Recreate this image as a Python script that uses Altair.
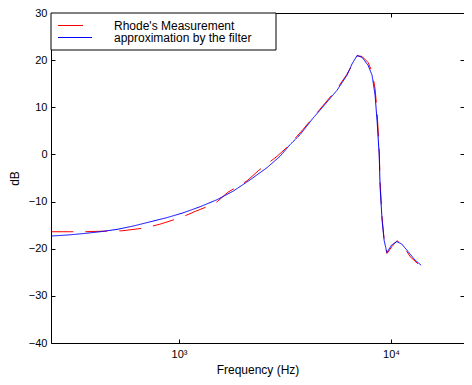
import altair as alt
import pandas as pd

# Measurement (red, dashed)
meas_freq = [250, 297, 352, 424, 538, 691, 813, 1033, 1190, 1479, 1703, 2093, 2360, 2899,
             3266, 3845, 4625, 5559, 6196, 6920, 7292, 7795, 8137, 8405, 8595, 8790, 8880,
             9073, 9274, 9572, 10110, 10670, 11400, 12310, 13390]
meas_db = [-16.4, -16.4, -16.4, -16.3, -16.2, -15.6, -14.8, -13.3, -12.1, -10.4, -8.0, -5.6,
           -3.5, -0.4, 1.7, 5.3, 9.6, 13.9, 17.0, 20.9, 20.8, 19.5, 17.5, 14.0, 9.0, 1.0,
           -6.0, -13.5, -18.0, -21.0, -19.5, -18.3, -19.3, -21.7, -23.2]

# Filter approximation (blue, solid)
fit_freq = [250, 297, 352, 424, 510, 607, 730, 878, 1044, 1256, 1511, 1799, 2163, 2600,
            2994, 3342, 3724, 4286, 4625, 5559, 6196, 6545, 6920, 7292, 7795, 8137, 8405,
            8595, 8790, 8880, 9073, 9274, 9550, 10070, 10640, 11230, 12020, 12970, 13870]
fit_db = [-17.3, -17.1, -16.8, -16.4, -15.9, -15.2, -14.3, -13.4, -12.4, -11.1, -9.6, -7.8,
          -5.4, -2.8, -0.4, 2.1, 4.2, 7.7, 9.4, 13.6, 16.8, 19.2, 21.0, 20.6, 18.9, 16.8,
          12.6, 7.0, 0.0, -7.0, -14.0, -18.2, -20.8, -19.2, -18.5, -19.0, -20.6, -22.4, -23.5]

series_names = ["Rhode's Measurement", "approximation by the filter"]
series_colors = ["#ff0000", "#0000ff"]
x_ticks = [1000, 10000]
y_ticks = [-40, -30, -20, -10, 0, 10, 20, 30]

df = pd.concat([
    pd.DataFrame({"f": meas_freq, "db": meas_db, "s": series_names[0], "o": range(len(meas_freq))}),
    pd.DataFrame({"f": fit_freq, "db": fit_db, "s": series_names[1], "o": range(len(fit_freq))}),
])
leg_df = pd.DataFrame({"s": series_names, "row": [0, 1]})

FONT = "Liberation Sans"
xscale = alt.Scale(type="log", domain=[249, 22080], nice=False)
yscale = alt.Scale(domain=[-40, 30], nice=False)
cscale = alt.Scale(domain=series_names, range=series_colors)

color = alt.Color("s:N", scale=cscale, legend=None)
dash = alt.StrokeDash("s:N", scale=alt.Scale(domain=series_names, range=[[22, 12], [1, 0]]), legend=None)

x_bottom = alt.X("f:Q", scale=xscale, axis=alt.Axis(
    values=x_ticks, labelExpr="datum.value == 1000 ? '10³' : '10⁴'",
    grid=False, domain=False, tickSize=4, offset=-4, tickColor="black",
    labelPadding=5, labelFont=FONT, labelFontSize=11, labelColor="black",
    title="Frequency (Hz)", titleFont=FONT, titleFontSize=12, titleFontWeight="normal",
    titleColor="black", titlePadding=5))
y_left = alt.Y("db:Q", scale=yscale, axis=alt.Axis(
    values=y_ticks, grid=False, domain=False, tickSize=4, offset=-4, tickColor="black",
    labelPadding=4, labelFont=FONT, labelFontSize=11, labelColor="black",
    title="dB", titleFont=FONT, titleFontSize=12, titleFontWeight="normal",
    titleColor="black", titlePadding=7))

base = alt.Chart(df)
red = base.transform_filter(alt.datum.s == series_names[0]).mark_line(strokeWidth=1).encode(
    x=x_bottom, y=y_left, color=color, strokeDash=dash, order="o:Q")
blue = base.transform_filter(alt.datum.s == series_names[1]).mark_line(strokeWidth=1).encode(
    x=x_bottom, y=y_left, color=color, strokeDash=dash, order="o:Q")

# legend box drawn inside the plot, top-left
lbase = alt.Chart(leg_df)
box = lbase.transform_filter(alt.datum.row == 0).mark_rect(
    fill="white", stroke="black", strokeWidth=1).encode(
    x=alt.value(0), x2=alt.value(225), y=alt.value(0), y2=alt.value(37))
red_key = lbase.transform_filter(alt.datum.row == 0).mark_rule(strokeWidth=1).encode(
    x=alt.value(7), x2=alt.value(32), y=alt.value(12.5), color=color)
blue_key = lbase.transform_filter(alt.datum.row == 1).mark_rule(strokeWidth=1).encode(
    x=alt.value(7), x2=alt.value(41), y=alt.value(24.5), color=color)
red_txt = lbase.transform_filter(alt.datum.row == 0).mark_text(
    align="left", baseline="middle", font=FONT, fontSize=12, color="black").encode(
    x=alt.value(63), y=alt.value(12.5), text="s:N")
blue_txt = lbase.transform_filter(alt.datum.row == 1).mark_text(
    align="left", baseline="middle", font=FONT, fontSize=12, color="black").encode(
    x=alt.value(63), y=alt.value(24.5), text="s:N")

curves = alt.layer(red, blue, box, red_key, blue_key, red_txt, blue_txt)

frame_axes = base.transform_filter(alt.datum.s == series_names[1]).mark_line(opacity=0).encode(
    x=alt.X("f:Q", scale=xscale, axis=alt.Axis(
        orient="top", values=x_ticks, labels=False, grid=False, domain=False,
        tickSize=4, offset=-4, tickColor="black", title=None)),
    y=alt.Y("db:Q", scale=yscale, axis=alt.Axis(
        orient="right", values=y_ticks, labels=False, grid=False, domain=False,
        tickSize=4, offset=-4, tickColor="black", title=None)),
)

chart = alt.layer(curves, frame_axes).resolve_axis(
    x="independent", y="independent"
).properties(
    width=413, height=330,
    autosize=alt.AutoSizeParams(type="none"),
    padding={"left": 43, "top": 5, "right": 0, "bottom": 34},
    background="white",
).configure_view(stroke="black", strokeWidth=1)

chart.save("out.html", embed_options={"renderer": "svg", "actions": False})
